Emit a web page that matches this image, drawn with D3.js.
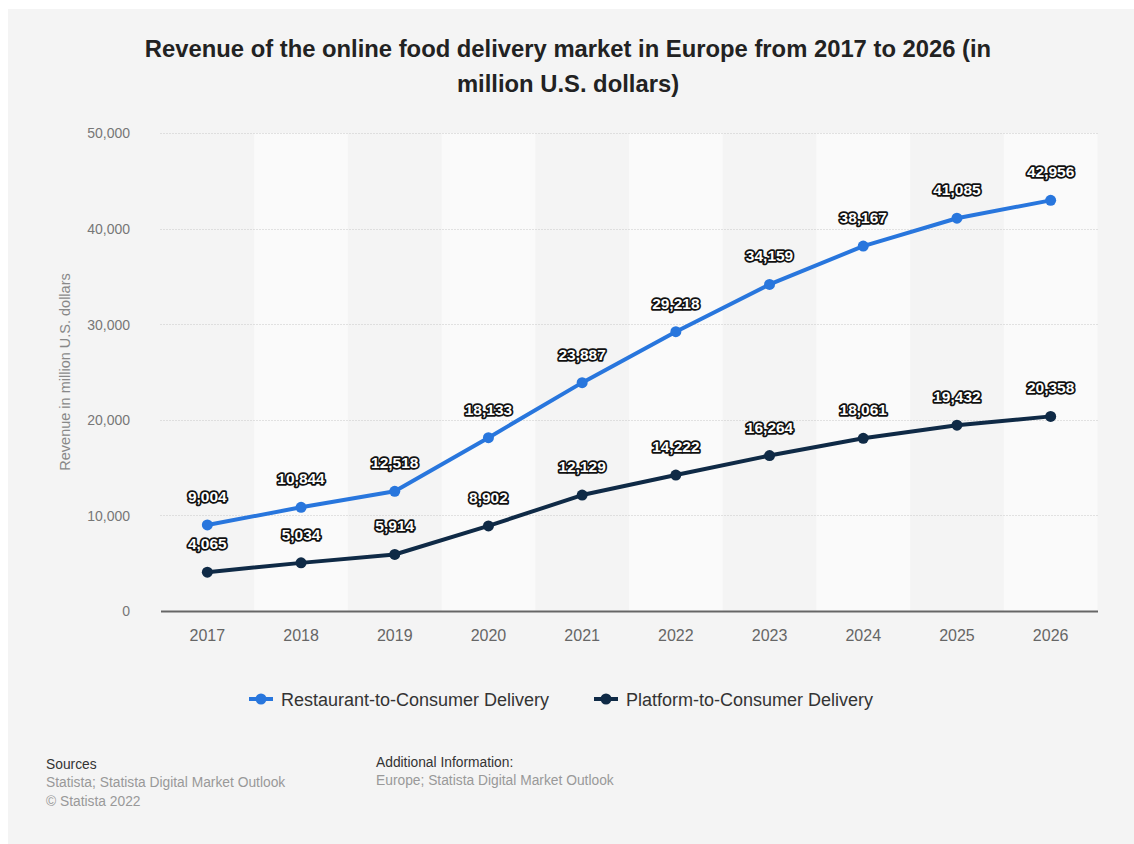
<!DOCTYPE html>
<html>
<head>
<meta charset="utf-8">
<script src="https://cdn.jsdelivr.net/npm/d3@7"></script>
<style>
  html, body { margin: 0; padding: 0; background: #ffffff; }
  svg { display: block; font-family: "Liberation Sans", Arial, Helvetica, sans-serif; }
</style>
</head>
<body>
<svg id="chart" width="1134" height="844"></svg>
<script>
// Revenue of the online food delivery market in Europe, 2017–2026 (million US$)
const years = ["2017", "2018", "2019", "2020", "2021", "2022", "2023", "2024", "2025", "2026"];
const restaurantToConsumer = [9004, 10844, 12518, 18133, 23887, 29218, 34159, 38167, 41085, 42956];
const platformToConsumer = [4065, 5034, 5914, 8902, 12129, 14222, 16264, 18061, 19432, 20358];
const yTicks = [0, 10000, 20000, 30000, 40000, 50000];
const seriesNames = ["Restaurant-to-Consumer Delivery", "Platform-to-Consumer Delivery"];
const seriesColors = ["#2876dd", "#0f2a46"];

const svg = d3.select("#chart");

// Background panel
svg.append("rect").attr("x", 8).attr("y", 9).attr("width", 1126).attr("height", 835).attr("fill", "#f4f4f4");

// Title
const title = svg.append("text")
  .attr("text-anchor", "middle")
  .attr("font-size", 23.8)
  .attr("font-weight", "bold")
  .attr("fill", "#222");
title.append("tspan").attr("x", 568).attr("y", 57).text("Revenue of the online food delivery market in Europe from 2017 to 2026 (in");
title.append("tspan").attr("x", 568).attr("y", 92).text("million U.S. dollars)");

// Scales
const x = d3.scaleBand().domain(years).range([160.5, 1097.5]).padding(0);
const y = d3.scaleLinear().domain([0, 50000]).range([611, 133]);
const cx = d => x(d) + x.bandwidth() / 2;

// Alternating column bands
svg.append("g").selectAll("rect")
  .data(years.filter((d, i) => i % 2 === 1))
  .join("rect")
  .attr("x", d => x(d))
  .attr("y", y(50000))
  .attr("width", x.bandwidth())
  .attr("height", y(0) - y(50000))
  .attr("fill", "#fafafa");

// Horizontal grid lines and y labels
const yAxis = d3.axisLeft(y).tickValues(yTicks).tickSize(0).tickPadding(0)
  .tickFormat(d3.format(","));
const gy = svg.append("g").attr("transform", "translate(130,0)").call(yAxis);
gy.select(".domain").remove();
gy.selectAll("text").attr("font-size", 14).attr("fill", "#777").attr("font-family", null).attr("dy", "0.35em");

svg.append("g").selectAll("line")
  .data(yTicks.filter(d => d > 0))
  .join("line")
  .attr("x1", 160.5).attr("x2", 1097.5)
  .attr("y1", d => Math.round(y(d)) + 0.5).attr("y2", d => Math.round(y(d)) + 0.5)
  .attr("stroke", "#c8c8c8")
  .attr("stroke-width", 1)
  .attr("stroke-dasharray", "1,2");

// X axis
const xAxis = d3.axisBottom(x).tickSize(0).tickPadding(0);
const gx = svg.append("g").attr("transform", `translate(0,${y(0)})`).call(xAxis);
gx.select(".domain").attr("stroke", "#666").attr("stroke-width", 2);
gx.selectAll("text").attr("font-size", 16).attr("fill", "#666").attr("font-family", null)
  .attr("y", 30).attr("dy", 0);

// Y axis title
svg.append("text")
  .attr("transform", "translate(70,372) rotate(-90)")
  .attr("text-anchor", "middle")
  .attr("font-size", 14.5)
  .attr("fill", "#888")
  .text("Revenue in million U.S. dollars");

// Lines, points, labels
const seriesData = [restaurantToConsumer, platformToConsumer];
const line = d3.line().x((d, i) => cx(years[i])).y(d => y(d));

seriesData.forEach((values, si) => {
  const g = svg.append("g");
  g.append("path")
    .attr("d", line(values))
    .attr("fill", "none")
    .attr("stroke", seriesColors[si])
    .attr("stroke-width", 4)
    .attr("stroke-linejoin", "round");
  g.selectAll("circle")
    .data(values)
    .join("circle")
    .attr("cx", (d, i) => cx(years[i]))
    .attr("cy", d => y(d))
    .attr("r", 5.5)
    .attr("fill", seriesColors[si]);
});

seriesData.forEach((values) => {
  svg.append("g").selectAll("text")
    .data(values)
    .join("text")
    .attr("x", (d, i) => cx(years[i]))
    .attr("y", d => y(d) - 23)
    .attr("text-anchor", "middle")
    .attr("font-size", 15.5)
    .attr("font-weight", "bold")
    .attr("fill", "#ffffff")
    .attr("stroke", "#111")
    .attr("stroke-width", 3.5)
    .attr("stroke-linejoin", "round")
    .attr("paint-order", "stroke")
    .text(d => d3.format(",")(d));
});

// Legend
const legendItems = [
  { x: 249, name: seriesNames[0], color: seriesColors[0] },
  { x: 594, name: seriesNames[1], color: seriesColors[1] }
];
const lg = svg.append("g").selectAll("g").data(legendItems).join("g")
  .attr("transform", d => `translate(${d.x},699)`);
lg.append("line").attr("x1", 0).attr("x2", 24).attr("y1", 0).attr("y2", 0)
  .attr("stroke", d => d.color).attr("stroke-width", 4);
lg.append("circle").attr("cx", 12).attr("cy", 0).attr("r", 5.5).attr("fill", d => d.color);
lg.append("text").attr("x", 32).attr("y", 6.5).attr("font-size", 18).attr("fill", "#333").text(d => d.name);

// Footer
const foot = svg.append("g").attr("font-size", 13.8);
foot.append("text").attr("x", 46).attr("y", 769).attr("fill", "#333").text("Sources");
foot.append("text").attr("x", 46).attr("y", 787).attr("fill", "#999").text("Statista; Statista Digital Market Outlook");
foot.append("text").attr("x", 46).attr("y", 806).attr("fill", "#999").text("© Statista 2022");
foot.append("text").attr("x", 376).attr("y", 767).attr("fill", "#333").text("Additional Information:");
foot.append("text").attr("x", 376).attr("y", 785).attr("fill", "#999").text("Europe; Statista Digital Market Outlook");
</script>
</body>
</html>
